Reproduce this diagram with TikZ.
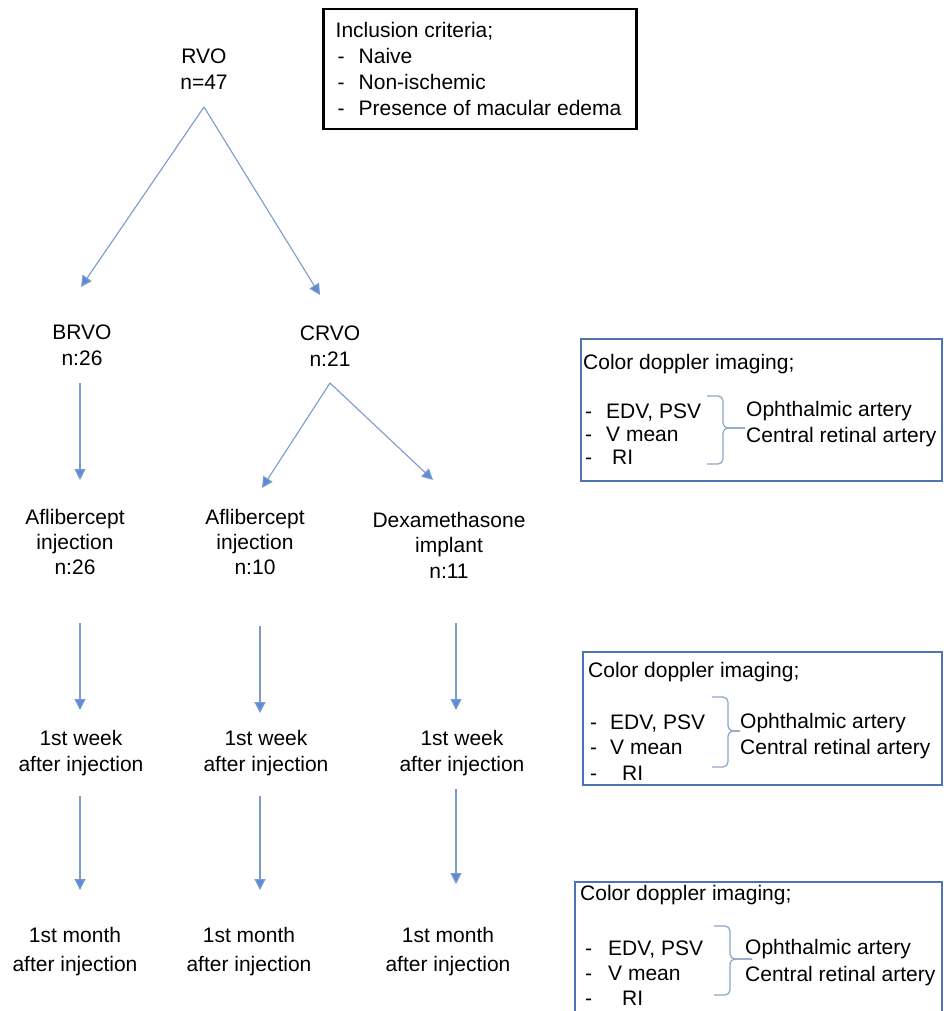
\documentclass[tikz,border=0pt]{standalone}
\usepackage{fontspec}
\setmainfont{Liberation Sans}
\usetikzlibrary{arrows.meta,calc}
\definecolor{arrowc}{RGB}{122,155,204}
\definecolor{headc}{RGB}{91,141,214}
\definecolor{boxc}{RGB}{79,114,176}
\definecolor{bracec}{RGB}{140,165,200}
\begin{document}
\begin{tikzpicture}[x=1pt,y=-1pt,
  txt/.style={font=\fontsize{21}{26}\selectfont, align=center, inner sep=0pt},
  lbl/.style={font=\fontsize{21}{25}\selectfont, align=left, inner sep=0pt},
  arr/.style={draw=arrowc, line width=1.1pt, -{Triangle[length=11pt,width=11pt,fill=headc]}},
  dbox/.style={draw=boxc, line width=2pt, inner sep=0pt},
  brc/.style={draw=bracec, line width=1.2pt, rounded corners=5pt}]
\useasboundingbox (0,0) rectangle (943,1011);
\fill[white] (0,0) rectangle (943,1011);
\clip (0,0) rectangle (943,1011);

% tree nodes
\node[txt] (rvo) at (204,69.5) {RVO\\n=47};
\node[draw=black, line width=2.2pt, minimum width=313pt, minimum height=120pt,
      inner xsep=0pt, align=left,
      font=\fontsize{21}{25.7}\selectfont] (incl) at (480,69)
  {Inclusion criteria;\\
   \hspace*{2pt}\makebox[21pt][l]{-}Naive\\
   \hspace*{2pt}\makebox[21pt][l]{-}Non-ischemic\\
   \hspace*{2pt}\makebox[21pt][l]{-}Presence of macular edema\hspace*{3pt}};

\node[txt] (brvo) at (82,345.5) {BRVO\\n:26};
\node[txt] (crvo) at (330,346) {CRVO\\n:21};

\node[txt, font=\fontsize{21}{25}\selectfont] (afl1) at (75,542) {Aflibercept\\injection\\n:26};
\node[txt, font=\fontsize{21}{25}\selectfont] (afl2) at (255,542) {Aflibercept\\injection\\n:10};
\node[txt, font=\fontsize{21}{25.5}\selectfont] (dexa) at (449,545) {Dexamethasone\\implant\\n:11};

\node[txt] (wk1) at (81,753) {1st week\\after injection};
\node[txt] (wk2) at (266,753) {1st week\\after injection};
\node[txt] (wk3) at (462,753) {1st week\\after injection};

\node[txt, font=\fontsize{21}{29}\selectfont] (mo1) at (75,951.5) {1st month\\after injection};
\node[txt, font=\fontsize{21}{29}\selectfont] (mo2) at (249,951.5) {1st month\\after injection};
\node[txt, font=\fontsize{21}{29}\selectfont] (mo3) at (448,951.5) {1st month\\after injection};

% connectors
\draw[arr] ($(rvo.center)+(0,37.5)$) -- ($(brvo.center)+(-1,-58.5)$);
\draw[arr] ($(rvo.center)+(0,37.5)$) -- ($(crvo.center)+(-10,-51)$);
\draw[arr] ($(brvo.center)+(-2,37.5)$) -- ($(afl1.center)+(5,-62)$);
\draw[arr] ($(crvo.center)+(0,37)$) -- ($(afl2.center)+(7,-54)$);
\draw[arr] ($(crvo.center)+(0,37)$) -- ($(dexa.center)+(-16,-65)$);
\draw[arr] ($(afl1.center)+(5,81)$) -- ($(wk1.center)+(-1,-43)$);
\draw[arr] ($(afl2.center)+(5,84)$) -- ($(wk2.center)+(-6,-40)$);
\draw[arr] ($(dexa.center)+(7,78)$) -- ($(wk3.center)+(-6,-43)$);
\draw[arr] ($(wk1.center)+(-1,43)$) -- ($(mo1.center)+(5,-61.5)$);
\draw[arr] ($(wk2.center)+(-6,43)$) -- ($(mo2.center)+(11,-61.5)$);
\draw[arr] ($(wk3.center)+(-6,36)$) -- ($(mo3.center)+(8,-67.5)$);

% doppler box 1
\node[dbox, minimum width=361pt, minimum height=142pt] (dop1) at (761.5,410) {};
\node[lbl, anchor=base west] (t1) at (583,369.5) {Color doppler imaging;};
\node[lbl, anchor=west, font=\fontsize{21}{23}\selectfont] (l1) at (585,434)
  {\makebox[21pt][l]{-}EDV, PSV\\\makebox[21pt][l]{-}V mean\\\makebox[27pt][l]{-}RI};
\draw[brc] (707,396) -- (723,396) -- (723,428) -- (745,428);
\draw[brc] (707,464) -- (723,464) -- (723,428) -- (745,428);
\node[lbl, anchor=west, font=\fontsize{21}{26}\selectfont] (a1) at (746,424)
  {Ophthalmic artery\\Central retinal artery};

% doppler box 2
\node[dbox, minimum width=359pt, minimum height=133pt] (dop2) at (762.5,718.5) {};
\node[lbl, anchor=base west] (t2) at (588,677.5) {Color doppler imaging;};
\node[lbl, anchor=west, font=\fontsize{21}{25.5}\selectfont] (l2) at (590,747.5)
  {\makebox[20pt][l]{-}EDV, PSV\\\makebox[20pt][l]{-}V mean\\\makebox[32pt][l]{-}RI};
\draw[brc] (712,697) -- (728,697) -- (728,731) -- (740,731);
\draw[brc] (712,767) -- (728,767) -- (728,731) -- (740,731);
\node[lbl, anchor=west, font=\fontsize{21}{26}\selectfont] (a2) at (740,736)
  {Ophthalmic artery\\Central retinal artery};

% doppler box 3
\node[dbox, minimum width=367pt, minimum height=140pt] (dop3) at (758.5,952) {};
\node[lbl, anchor=base west] (t3) at (580,900.5) {Color doppler imaging;};
\node[lbl, anchor=west, font=\fontsize{21}{25}\selectfont] (l3) at (585,973)
  {\makebox[23pt][l]{-}EDV, PSV\\\makebox[23pt][l]{-}V mean\\\makebox[37pt][l]{-}RI};
\draw[brc] (714,926) -- (730,926) -- (730,959) -- (752,959);
\draw[brc] (714,995) -- (730,995) -- (730,959) -- (752,959);
\node[lbl, anchor=west, font=\fontsize{21}{27}\selectfont] (a3) at (745,962.5)
  {Ophthalmic artery\\Central retinal artery};
\end{tikzpicture}
\end{document}
